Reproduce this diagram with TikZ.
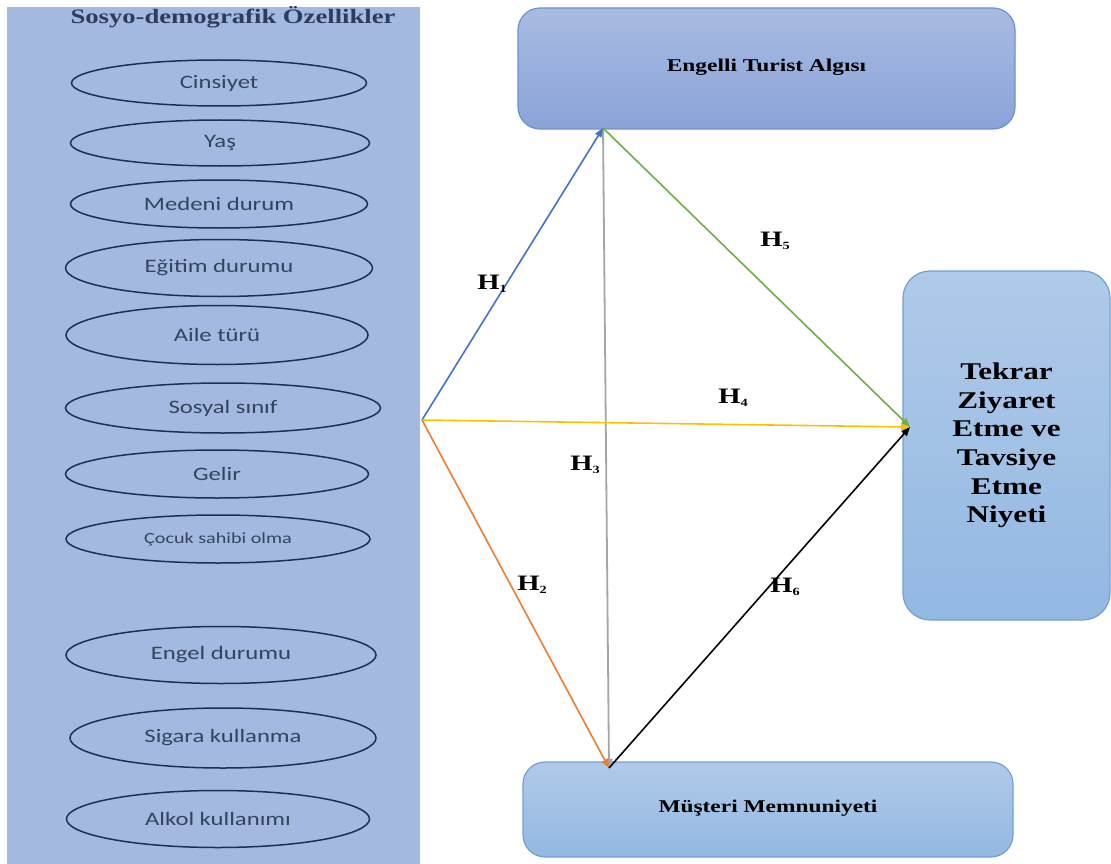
\documentclass[tikz,border=0pt]{standalone}
\usepackage{fontspec}
\setmainfont{Liberation Serif}
\newfontfamily\serifb[FakeStretch=1.3]{Liberation Serif}
\newfontfamily\calib[FakeStretch=1.3]{Carlito}
\usetikzlibrary{shapes.geometric,arrows.meta}
\definecolor{panel}{HTML}{A3B9E1}
\definecolor{elline}{HTML}{1F2F52}
\definecolor{eltext}{HTML}{34445F}
\definecolor{titlec}{HTML}{2E3B5C}
\definecolor{ctop}{HTML}{A9BBE2}
\definecolor{cbot}{HTML}{8AA3D8}
\definecolor{cborder}{HTML}{6E90D0}
\definecolor{ltop}{HTML}{B0CAE9}
\definecolor{lbot}{HTML}{93B8E2}
\definecolor{lborder}{HTML}{6FA0D8}
\definecolor{hblue}{HTML}{4472C4}
\definecolor{hgreen}{HTML}{70AD47}
\definecolor{hyellow}{HTML}{FFC000}
\definecolor{horange}{HTML}{ED7D31}
\definecolor{hgray}{HTML}{A5A5A5}
\tikzset{
  ell/.style={ellipse, draw=elline, line width=1.5pt, text=eltext,
    font=\calib\fontsize{19}{22}\selectfont, inner sep=0pt},
  bigbox/.style={rounded corners=22pt, line width=1.2pt, inner sep=0pt,
    font=\serifb\bfseries\fontsize{18}{22}\selectfont, text=black, align=center},
  conn/.style={line width=1.6pt, -{Triangle[length=9pt,width=7pt]}},
  hlab/.style={font=\serifb\bfseries\fontsize{22}{24}\selectfont, text=black, inner sep=0pt}
}
\newcommand{\hyp}[1]{H\raisebox{-0.15em}{\fontsize{11}{11}\selectfont #1}}
\begin{document}
\begin{tikzpicture}[x=1pt,y=-1pt]
\useasboundingbox (0,0) rectangle (1111,864);
% left panel
\fill[panel] (7,7) rectangle (420,864);
\node[text=titlec, font=\serifb\bfseries\fontsize{20.5}{24}\selectfont] (title) at (233,17) {Sosyo-demografik Özellikler};
\node[ell, minimum width=295pt, minimum height=46pt] (e1) at (219,83) {Cinsiyet};
\node[ell, minimum width=299pt, minimum height=46pt] (e2) at (220,143) {Yaş};
\node[ell, minimum width=297pt, minimum height=48pt] (e3) at (219,204) {Medeni durum};
\node[ell, minimum width=307pt, minimum height=57pt] (e4) at (219,268) {Eğitim durumu};
\node[ell, minimum width=302pt, minimum height=59pt] (e5) at (217,335) {Aile türü};
\node[ell, minimum width=315pt, minimum height=50pt] (e6) at (223,408) {Sosyal sınıf};
\node[ell, minimum width=303pt, minimum height=48pt] (e7) at (217,474) {Gelir};
\node[ell, minimum width=304pt, minimum height=48pt, font=\calib\fontsize{15.5}{18}\selectfont] (e8) at (218,539) {Çocuk sahibi olma};
\node[ell, minimum width=310pt, minimum height=57pt] (e9) at (221,655) {Engel durumu};
\node[ell, minimum width=306pt, minimum height=60pt] (e10) at (223,738) {Sigara kullanma};
\node[ell, minimum width=303pt, minimum height=57pt] (e11) at (218,819) {Alkol kullanımı};
% boxes
\node[bigbox, draw=cborder, top color=ctop, bottom color=cbot, minimum width=497pt, minimum height=121pt] (eta) at (766.5,68.5) {\raisebox{6pt}{Engelli Turist Algısı}};
\node[bigbox, draw=lborder, top color=ltop, bottom color=lbot, minimum width=207pt, minimum height=349pt, rounded corners=27pt, font=\serifb\bfseries\fontsize{24}{28.6}\selectfont] (tz) at (1006.5,445.5) {\raisebox{3pt}{\begin{tabular}{@{}c@{}}Tekrar\\Ziyaret\\Etme ve\\Tavsiye\\Etme\\Niyeti\end{tabular}}};
\node[bigbox, draw=lborder, top color=ltop, bottom color=lbot, minimum width=490pt, minimum height=95pt] (mm) at (768,809.5) {\raisebox{6pt}{Müşteri Memnuniyeti}};
% anchor points
\coordinate (src) at (422,420);
\coordinate (etaB) at (603,128);
\coordinate (mmT) at (609,768);
\coordinate (tzL) at (910,427);
% connectors
\draw[conn, hgray, line width=1.8pt] (etaB) -- (mmT);
\draw[conn, hblue] (src) -- (etaB);
\draw[conn, hgreen] (etaB) -- (tzL);
\draw[conn, hyellow] (src) -- (tzL);
\draw[conn, horange] (src) -- (mmT);
\draw[conn, black] (mmT) -- (tzL);
% labels
\node[hlab] (l1) at (492,284) {\hyp{1}};
\node[hlab] (l5) at (775,241) {\hyp{5}};
\node[hlab] (l4) at (733,398) {\hyp{4}};
\node[hlab] (l3) at (585,465) {\hyp{3}};
\node[hlab] (l2) at (532,585) {\hyp{2}};
\node[hlab] (l6) at (785,587) {\hyp{6}};
\end{tikzpicture}
\end{document}
